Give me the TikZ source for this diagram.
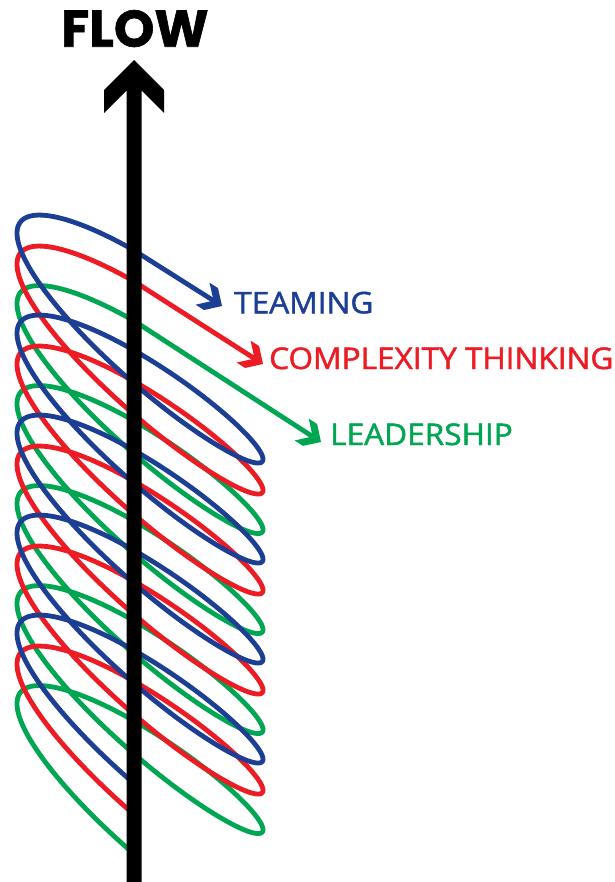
\documentclass[tikz,border=0pt]{standalone}
\usepackage{fontspec}
\usetikzlibrary{calc}
\newfontfamily\labfont{Open Sans}[FakeBold=1.6,FakeStretch=1.06]
\newfontfamily\flowfont{Poppins}[FakeBold=1.2]
\definecolor{cB}{HTML}{1C3F94}
\definecolor{cR}{HTML}{ED1C24}
\definecolor{cG}{HTML}{00A651}
% #1 colour, #2 vertical offset Y, #3 name, #4 arrow tip x, #5 arrow tip y
\newcommand\drawcoil[5]{%
  \coordinate (#3t) at (#4,#5);
  \coordinate (#3s) at (134,{#2-120.87});
  \draw[#1,coil] ($(#3t)!11pt!(#3s)$) -- plot[variable=\t, domain=-4.663:23.513, samples=700]
     ({140+123*cos(\t r)},{#2+15.915*\t+88*cos(\t r)-42.4*sin(\t r)});
  \pgfmathsetmacro\chevang{atan2(-(#5-(#2-120.87)),#4-134)}%
  \begin{scope}[shift={(#3t)}, rotate=\chevang]
    \fill[#1] (0,0) -- (-13,13) -- (-23,13) -- (-12.3,2.3) -- (-12.3,-2.3)
      -- (-23,-13) -- (-13,-13) -- cycle;
  \end{scope}
}
\begin{document}
\begin{tikzpicture}[x=1pt,y=-1pt,
  coil/.style={line width=4.8pt, line join=round},
  lab/.style={anchor=base west, inner sep=0pt, font=\labfont\fontsize{29.8}{30}\selectfont}]
\useasboundingbox (0,0) rectangle (614,882);
\fill[white] (0,0) rectangle (614,882);
\drawcoil{cG}{441.7}{g}{321}{442}
\drawcoil{cR}{402.2}{r}{263}{364}
\drawcoil{cB}{371.2}{b}{222}{306}
% flow bar with arrowhead
\fill[black] (134.2,60) -- (164.2,90) -- (164.2,113) -- (141.7,90.5) -- (141.7,882)
  -- (126.7,882) -- (126.7,90.5) -- (104.2,113) -- (104.2,90) -- cycle;
\node[lab, text=cB] (team) at (234,313.3) {TEAMING};
\node[lab, text=cR] (comp) at (269,369) {COMPLEXITY THINKING};
\node[lab, text=cG] (lead) at (330,445) {LEADERSHIP};
\node[anchor=base west, inner sep=0pt, font=\flowfont\bfseries\fontsize{51.5}{52}\selectfont] (flow) at (61,46.7) {FLOW};
\end{tikzpicture}
\end{document}
